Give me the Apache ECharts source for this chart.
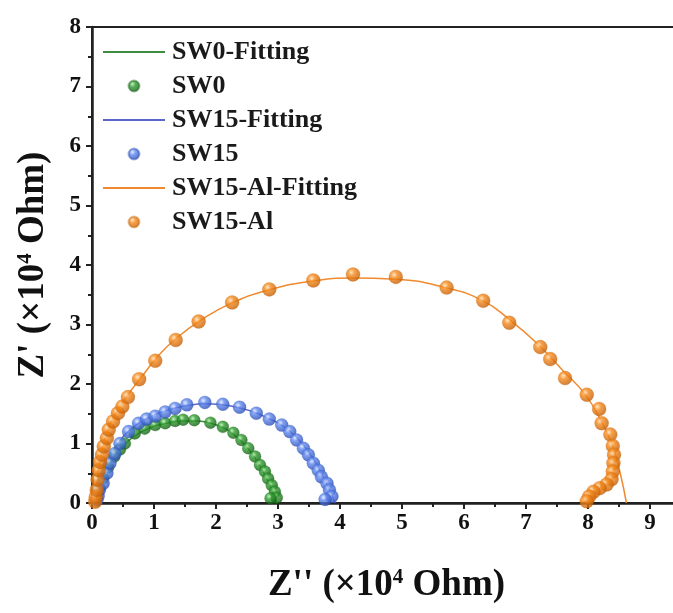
<!DOCTYPE html>
<html>
<head>
<meta charset="utf-8">
<script src="https://cdn.jsdelivr.net/npm/echarts@6/dist/echarts.min.js"></script>
<style>
html,body{margin:0;padding:0;background:#fff;overflow:hidden;width:673px;height:613px;}
#c{width:690px;height:613px;}
</style>
</head>
<body>
<div id="c"></div>
<script>
// ---- data (Z'' , Z') in units of 1e4 Ohm ----
var seriesNames = ['SW0-Fitting', 'SW0', 'SW15-Fitting', 'SW15', 'SW15-Al-Fitting', 'SW15-Al'];
var xTicks = [0, 1, 2, 3, 4, 5, 6, 7, 8, 9];
var yTicks = [0, 1, 2, 3, 4, 5, 6, 7, 8];

var sw0Fit = [[0.05,0],[0.12,0.3],[0.22,0.55],[0.35,0.78],[0.52,0.98],[0.72,1.15],[0.95,1.27],[1.2,1.34],[1.45,1.38],[1.7,1.38],[1.95,1.33],[2.15,1.25],[2.32,1.12],[2.48,0.96],[2.6,0.8],[2.7,0.64],[2.79,0.47],[2.87,0.3],[2.93,0.15],[2.98,0]];
var sw0Data = [[0.08,0.1],[0.12,0.25],[0.18,0.42],[0.26,0.6],[0.36,0.78],[0.45,0.9],[0.53,1.0],[0.69,1.17],[0.85,1.25],[1.02,1.31],[1.18,1.34],[1.34,1.38],[1.47,1.40],[1.65,1.39],[1.91,1.35],[2.11,1.28],[2.28,1.18],[2.41,1.06],[2.52,0.92],[2.63,0.78],[2.71,0.64],[2.79,0.53],[2.84,0.41],[2.90,0.30],[2.95,0.19],[2.98,0.09],[2.88,0.08]];

var sw15Fit = [[0.05,0],[0.1,0.25],[0.18,0.5],[0.28,0.75],[0.42,1.0],[0.6,1.22],[0.85,1.4],[1.15,1.54],[1.5,1.63],[1.85,1.67],[2.2,1.64],[2.55,1.55],[2.85,1.42],[3.1,1.28],[3.3,1.1],[3.48,0.88],[3.62,0.65],[3.74,0.42],[3.84,0.2],[3.92,0]];
var sw15Data = [[0.08,0.05],[0.10,0.12],[0.12,0.22],[0.18,0.33],[0.24,0.50],[0.29,0.67],[0.37,0.83],[0.45,1.00],[0.59,1.20],[0.75,1.34],[0.88,1.41],[1.02,1.46],[1.18,1.53],[1.34,1.59],[1.53,1.65],[1.82,1.69],[2.11,1.66],[2.38,1.61],[2.65,1.51],[2.86,1.41],[3.06,1.31],[3.19,1.20],[3.30,1.06],[3.41,0.92],[3.49,0.81],[3.57,0.67],[3.65,0.55],[3.70,0.44],[3.79,0.33],[3.83,0.22],[3.87,0.11],[3.76,0.06]];

var sw15AlFit = [[0.05,0],[0.08,0.3],[0.12,0.7],[0.2,1.05],[0.3,1.35],[0.45,1.62],[0.6,1.85],[0.8,2.12],[1.05,2.45],[1.35,2.76],[1.75,3.07],[2.25,3.36],[2.85,3.58],[3.55,3.73],[4.2,3.78],[4.9,3.76],[5.7,3.62],[6.3,3.40],[6.75,3.07],[7.2,2.66],[7.6,2.22],[7.95,1.83],[8.2,1.40],[8.4,0.95],[8.52,0.5],[8.62,0]];
var sw15AlData = [[0.05,0.02],[0.06,0.1],[0.075,0.22],[0.09,0.39],[0.11,0.55],[0.13,0.69],[0.16,0.81],[0.19,0.95],[0.24,1.09],[0.27,1.23],[0.34,1.37],[0.42,1.51],[0.49,1.62],[0.58,1.78],[0.76,2.08],[1.02,2.39],[1.35,2.74],[1.72,3.05],[2.26,3.37],[2.86,3.59],[3.57,3.74],[4.21,3.84],[4.90,3.80],[5.72,3.62],[6.31,3.40],[6.73,3.03],[7.23,2.62],[7.39,2.42],[7.63,2.10],[7.98,1.82],[8.18,1.58],[8.22,1.34],[8.36,1.15],[8.40,0.96],[8.42,0.81],[8.41,0.67],[8.40,0.53],[8.38,0.40],[8.30,0.31],[8.19,0.25],[8.09,0.19],[8.02,0.11],[7.98,0.03]];

// ---- styling ----
var FONT = '"Liberation Serif","Times New Roman",serif';
var LINE_ICON = 'path://M0,0H64V2H0Z';
function ball(light, mid, dark) {
  return new echarts.graphic.RadialGradient(0.38, 0.35, 0.65, [
    {offset: 0, color: light},
    {offset: 0.35, color: mid},
    {offset: 1, color: dark}
  ]);
}
var greenBall = ball('#b8f0b0', '#2f9c2f', '#136013');
var blueBall = ball('#e0e8ff', '#5f88ee', '#2d4fb8');
var orangeBall = ball('#ffe2b8', '#f5891c', '#c45f05');

var supStyle = {fontFamily: FONT, fontWeight: 'bold', fontSize: 21, color: '#111', verticalAlign: 'top', padding: [0, 0, 14, 0]};

var chart = echarts.init(document.getElementById('c'), null, {renderer: 'canvas'});
chart.setOption({
  animation: false,
  backgroundColor: '#fff',
  grid: {left: 92, top: 27, bottom: 110, right: 9, show: true, borderColor: '#222', borderWidth: 2, backgroundColor: 'transparent'},
  legend: {
    orient: 'vertical', left: 103, top: 38, padding: 0,
    itemWidth: 62, itemHeight: 11, itemGap: 6,
    data: [
      {name: seriesNames[0], icon: LINE_ICON},
      {name: seriesNames[1]},
      {name: seriesNames[2], icon: LINE_ICON},
      {name: seriesNames[3]},
      {name: seriesNames[4], icon: LINE_ICON},
      {name: seriesNames[5]}
    ],
    textStyle: {fontFamily: FONT, fontWeight: 'bold', fontSize: 26, color: '#1a1a1a', lineHeight: 28, padding: [0, 0, 0, 2]}
  },
  xAxis: {
    type: 'value', min: 0, max: 9.5, interval: 1,
    name: "Z'' (×10{sup|4} Ohm)", nameLocation: 'middle', nameGap: 64,
    nameTextStyle: {fontFamily: FONT, fontWeight: 'bold', fontSize: 37, color: '#111', rich: {sup: supStyle}},
    axisLine: {show: true, onZero: false, lineStyle: {color: '#222', width: 2.5}},
    axisTick: {show: true, inside: false, length: 6, lineStyle: {color: '#222', width: 2}},
    minorTick: {show: true, splitNumber: 2, length: 4, lineStyle: {color: '#222', width: 2}},
    splitLine: {show: false},
    axisLabel: {fontFamily: FONT, fontWeight: 'bold', fontSize: 23, color: '#111', margin: 9,
      formatter: function (v) { return xTicks.indexOf(v) >= 0 ? String(v) : ''; }}
  },
  yAxis: {
    type: 'value', min: 0, max: 8, interval: 1,
    name: "Z' (×10{sup|4} Ohm)", nameLocation: 'middle', nameGap: 40,
    nameTextStyle: {fontFamily: FONT, fontWeight: 'bold', fontSize: 37, color: '#111', rich: {sup: supStyle}},
    axisLine: {show: true, onZero: false, lineStyle: {color: '#222', width: 2.5}},
    axisTick: {show: true, inside: false, length: 6, lineStyle: {color: '#222', width: 2}},
    minorTick: {show: true, splitNumber: 2, length: 4, lineStyle: {color: '#222', width: 2}},
    splitLine: {show: false},
    axisLabel: {fontFamily: FONT, fontWeight: 'bold', fontSize: 23, color: '#111', margin: 11,
      formatter: function (v) { return yTicks.indexOf(v) >= 0 ? String(v) : ''; }}
  },
  series: [
    {name: seriesNames[0], type: 'line', data: sw0Fit, showSymbol: false, symbol: 'none', symbolKeepAspect: true, smooth: true, z: 2,
      lineStyle: {color: '#3e8a3e', width: 1.5}, itemStyle: {color: '#3e8a3e'}},
    {name: seriesNames[1], type: 'scatter', data: sw0Data, symbol: 'circle', symbolSize: 12, z: 3,
      itemStyle: {color: greenBall, borderColor: 'rgba(20,90,20,0.5)', borderWidth: 0.5}},
    {name: seriesNames[2], type: 'line', data: sw15Fit, showSymbol: false, symbol: 'none', symbolKeepAspect: true, smooth: true, z: 2,
      lineStyle: {color: '#5a66cc', width: 1.5}, itemStyle: {color: '#5a66cc'}},
    {name: seriesNames[3], type: 'scatter', data: sw15Data, symbol: 'circle', symbolSize: 13, z: 4,
      itemStyle: {color: blueBall, borderColor: 'rgba(40,70,170,0.5)', borderWidth: 0.5}},
    {name: seriesNames[4], type: 'line', data: sw15AlFit, showSymbol: false, symbol: 'none', symbolKeepAspect: true, smooth: true, z: 2,
      lineStyle: {color: '#f08a30', width: 1.5}, itemStyle: {color: '#f08a30'}},
    {name: seriesNames[5], type: 'scatter', data: sw15AlData, symbol: 'circle', symbolSize: 14, z: 5,
      itemStyle: {color: orangeBall, borderColor: 'rgba(200,100,10,0.5)', borderWidth: 0.5}}
  ]
});
</script>
</body>
</html>
